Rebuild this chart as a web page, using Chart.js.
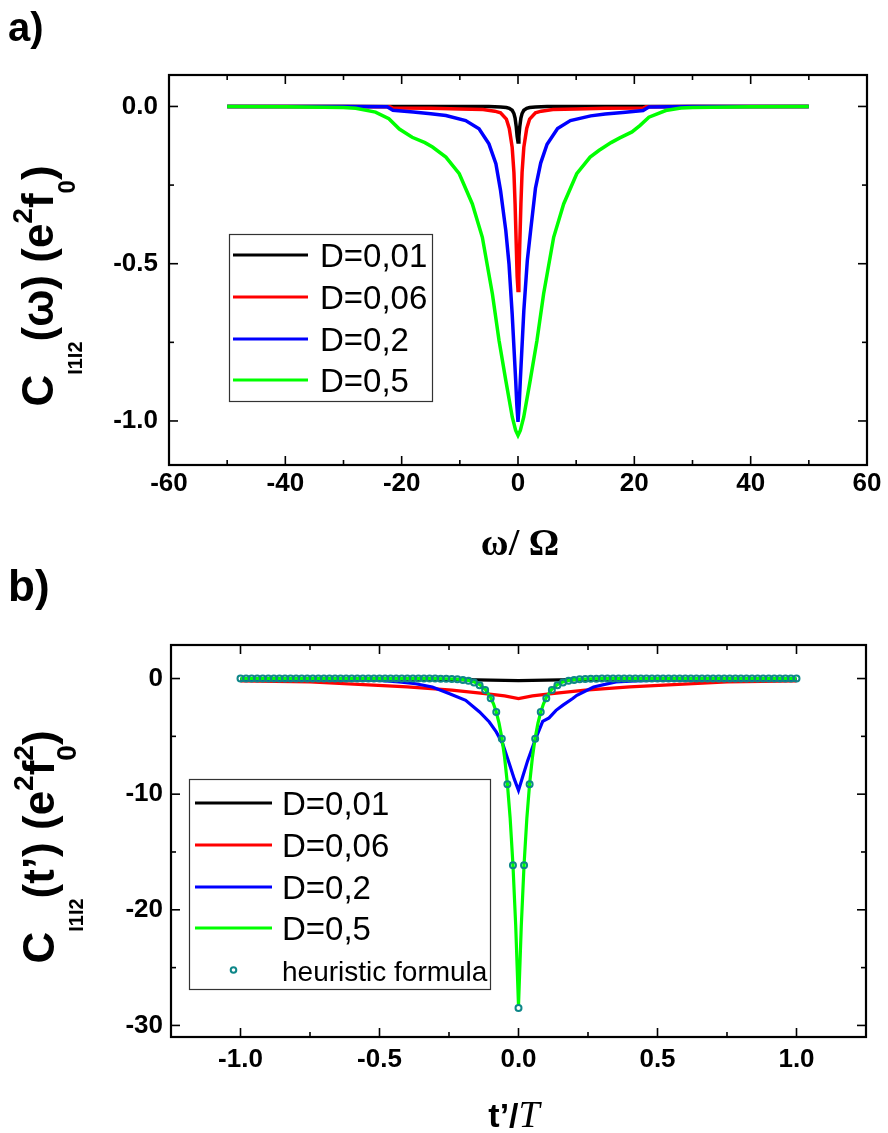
<!DOCTYPE html>
<html><head><meta charset="utf-8">
<script src="https://cdn.jsdelivr.net/npm/chart.js@4.4.0/dist/chart.umd.min.js"></script>
<style>
html,body{margin:0;padding:0;background:#fff;width:888px;height:1133px;overflow:hidden}
#wa{position:absolute;left:0;top:0;width:888px;height:566px}
#wb{position:absolute;left:0;top:566px;width:888px;height:567px}
canvas{display:block}
</style></head><body>
<div id="wa"><canvas id="ca" width="888" height="566"></canvas></div>
<div id="wb"><canvas id="cb" width="888" height="567"></canvas></div>
<script>
// ---------- DATA: panel a) C(omega) ----------
const seriesLabels = ['D=0,01','D=0,06','D=0,2','D=0,5'];
const heurLabel = 'heuristic formula';

const omegaD001 = [-50,-20,-10,-5,-3,-2,-1.5,-1,-0.7,-0.5,-0.3,-0.15,0,0.15,0.3,0.5,0.7,1,1.5,2,3,5,10,20,50];
const cOmegaD001 = [0,-0.0002,-0.0003,-0.0005,-0.0015,-0.0033,-0.0058,-0.0123,-0.0225,-0.037,-0.065,-0.095,-0.113,-0.095,-0.065,-0.037,-0.0225,-0.0123,-0.0058,-0.0033,-0.0015,-0.0005,-0.0003,-0.0002,0];

const omegaD006 = [-50,-30,-22,-21.5,-15,-10,-6,-4,-3,-2,-1.5,-1,-0.7,-0.5,-0.3,-0.15,0,0.15,0.3,0.5,0.7,1,1.5,2,3,4,6,10,15,21.5,22,30,50];
const cOmegaD006 = [0,0,-0.001,-0.005,-0.006,-0.008,-0.01,-0.015,-0.02,-0.04,-0.07,-0.13,-0.21,-0.31,-0.44,-0.54,-0.585,-0.54,-0.44,-0.31,-0.21,-0.13,-0.07,-0.04,-0.02,-0.015,-0.01,-0.008,-0.006,-0.005,-0.001,0,0];

const omegaD02 = [-50,-30,-22.5,-21.5,-18,-15,-12.4,-9,-6.7,-5,-3.8,-3,-2.1,-1.55,-1,-0.4,-0.2,0,0.2,0.4,1,1.6,2.2,3,3.9,5,6.8,9,12.5,15,18,21.5,22.5,30,50];
const cOmegaD02 = [0,0,-0.001,-0.012,-0.018,-0.023,-0.029,-0.045,-0.071,-0.119,-0.182,-0.267,-0.394,-0.5,-0.66,-0.87,-0.95,-1.003,-0.95,-0.87,-0.65,-0.49,-0.39,-0.26,-0.18,-0.12,-0.07,-0.045,-0.03,-0.024,-0.019,-0.013,-0.002,0,0];

const omegaD05 = [-50,-40,-30,-27.9,-24.5,-22.2,-20.4,-18.2,-16,-14.7,-12.4,-10.1,-7.85,-6.13,-4.4,-3.26,-2.1,-0.98,-0.4,0,0.4,0.98,2.1,3.26,4.4,6.13,7.85,10.1,12.4,13.9,16,17.5,19.6,21,22.5,25.4,28,30,40,50];
const cOmegaD05 = [0,-0.001,-0.003,-0.006,-0.018,-0.039,-0.072,-0.098,-0.115,-0.129,-0.161,-0.214,-0.31,-0.416,-0.596,-0.744,-0.871,-0.988,-1.03,-1.046,-1.03,-0.988,-0.871,-0.744,-0.596,-0.416,-0.31,-0.214,-0.161,-0.14,-0.115,-0.1,-0.081,-0.06,-0.034,-0.013,-0.005,-0.003,-0.001,0];

const xTicksA = [-60,-40,-20,0,20,40,60];
const xTickLabelsA = ['-60','-40','-20','0','20','40','60'];
const xMinorA = [-50,-30,-10,10,30,50];
const yTicksA = [0,-0.5,-1.0];
const yTickLabelsA = ['0.0','-0.5','-1.0'];
const yMinorA = [-0.25,-0.75];

// ---------- DATA: panel b) C(t') ----------
const tD001 = [-1,-0.3,-0.15,0,0.15,0.3,1];
const cTD001 = [-0.05,-0.08,-0.12,-0.18,-0.12,-0.08,-0.05];

const tD006 = [-1,-0.75,-0.54,-0.4,-0.24,-0.12,-0.05,0,0.05,0.12,0.24,0.4,0.54,0.75,1];
const cTD006 = [-0.2,-0.3,-0.55,-0.72,-1.0,-1.3,-1.5,-1.73,-1.5,-1.3,-1.0,-0.72,-0.55,-0.3,-0.2];

const tD02 = [-1,-0.7,-0.5,-0.43,-0.37,-0.31,-0.25,-0.19,-0.14,-0.105,-0.08,-0.057,-0.033,-0.015,0,0.015,0.033,0.06,0.087,0.11,0.135,0.16,0.195,0.21,0.27,0.35,0.42,0.51,0.7,1];
const cTD02 = [-0.1,-0.12,-0.17,-0.3,-0.45,-0.73,-1.3,-1.88,-2.89,-3.76,-4.62,-5.63,-7.36,-8.7,-9.67,-8.5,-7.1,-5.3,-3.7,-3.4,-2.75,-2.3,-1.73,-1.45,-0.73,-0.29,-0.2,-0.15,-0.12,-0.1];

const tD05 = [-1,-0.5,-0.3,-0.26,-0.22,-0.2,-0.18,-0.16,-0.14,-0.12,-0.1,-0.09,-0.08,-0.07,-0.06,-0.05,-0.04,-0.03,-0.02,-0.01,0,0.01,0.02,0.03,0.04,0.05,0.06,0.07,0.08,0.09,0.1,0.12,0.14,0.16,0.18,0.2,0.22,0.26,0.3,0.5,1];
const cTD05 = [0,0,-0.005,-0.017,-0.05,-0.09,-0.17,-0.29,-0.52,-0.92,-1.64,-2.18,-2.9,-3.86,-5.13,-6.83,-9.09,-12.1,-16.09,-21.4,-28.3,-21.4,-16.09,-12.1,-9.09,-6.83,-5.13,-3.86,-2.9,-2.18,-1.64,-0.92,-0.52,-0.29,-0.17,-0.09,-0.05,-0.017,-0.005,0,0];

const tHeur = [-1,-0.98,-0.96,-0.94,-0.92,-0.9,-0.88,-0.86,-0.84,-0.82,-0.8,-0.78,-0.76,-0.74,-0.72,-0.7,-0.68,-0.66,-0.64,-0.62,-0.6,-0.58,-0.56,-0.54,-0.52,-0.5,-0.48,-0.46,-0.44,-0.42,-0.4,-0.38,-0.36,-0.34,-0.32,-0.3,-0.28,-0.26,-0.24,-0.22,-0.2,-0.18,-0.16,-0.14,-0.12,-0.1,-0.08,-0.06,-0.04,-0.02,0,0.02,0.04,0.06,0.08,0.1,0.12,0.14,0.16,0.18,0.2,0.22,0.24,0.26,0.28,0.3,0.32,0.34,0.36,0.38,0.4,0.42,0.44,0.46,0.48,0.5,0.52,0.54,0.56,0.58,0.6,0.62,0.64,0.66,0.68,0.7,0.72,0.74,0.76,0.78,0.8,0.82,0.84,0.86,0.88,0.9,0.92,0.94,0.96,0.98,1];
const cHeur = [0,0,0,0,0,0,0,0,0,0,0,0,0,0,0,0,0,0,0,0,0,0,0,0,0,0,0,0,0,0,0,0,0,0,0,-0.004,-0.008,-0.015,-0.03,-0.06,-0.12,-0.2,-0.35,-0.58,-1.0,-1.7,-2.9,-5.2,-9.15,-16.15,-28.5,-16.15,-9.15,-5.2,-2.9,-1.7,-1.0,-0.58,-0.35,-0.2,-0.12,-0.06,-0.03,-0.015,-0.008,-0.004,0,0,0,0,0,0,0,0,0,0,0,0,0,0,0,0,0,0,0,0,0,0,0,0,0,0,0,0,0,0,0,0,0,0,0];

const xTicksB = [-1,-0.5,0,0.5,1];
const xTickLabelsB = ['-1.0','-0.5','0.0','0.5','1.0'];
const xMinorB = [-0.75,-0.25,0.25,0.75];
const yTicksB = [0,-10,-20,-30];
const yTickLabelsB = ['0','-10','-20','-30'];
const yMinorB = [-5,-15,-25];

// ---------- helpers ----------
const SANS = '"Liberation Sans", Arial, sans-serif';
const SERIF = '"Liberation Serif", "Times New Roman", serif';
const COLORS = ['#000000','#ff0000','#0000ff','#00ff00'];
const HEUR_COLOR = '#0e8789';

function pts(xs, ys){ return xs.map((x,i)=>({x:x, y:ys[i]})); }

function drawRuns(ctx, runs, x, y, angle){
  ctx.save();
  ctx.translate(x,y); ctx.rotate(angle);
  ctx.fillStyle='#000'; ctx.textAlign='left'; ctx.textBaseline='alphabetic';
  const w = runs.map(r=>{ctx.font=r.font; return ctx.measureText(r.t).width;});
  let total=0; runs.forEach((r,i)=>{ if(r.adv!==false) total+=w[i]; });
  let cx=-total/2;
  runs.forEach((r,i)=>{ ctx.font=r.font; ctx.fillText(r.t,cx,r.dy||0); if(r.adv!==false) cx+=w[i]; });
  ctx.restore();
}

function framePlugin(xMajor,xMinor,yMajor,yMinor){
  return {id:'frame', afterDatasetsDraw(chart){
    const ctx=chart.ctx, a=chart.chartArea, sx=chart.scales.x, sy=chart.scales.y;
    ctx.save(); ctx.strokeStyle='#000';
    ctx.lineWidth=1.6;
    const seg=(x1,y1,x2,y2)=>{ctx.beginPath();ctx.moveTo(x1,y1);ctx.lineTo(x2,y2);ctx.stroke();};
    xMajor.forEach(v=>{const p=sx.getPixelForValue(v); seg(p,a.bottom,p,a.bottom-9); seg(p,a.top,p,a.top+9);});
    xMinor.forEach(v=>{const p=sx.getPixelForValue(v); seg(p,a.bottom,p,a.bottom-5); seg(p,a.top,p,a.top+5);});
    yMajor.forEach(v=>{const p=sy.getPixelForValue(v); seg(a.left,p,a.left+9,p); seg(a.right,p,a.right-9,p);});
    yMinor.forEach(v=>{const p=sy.getPixelForValue(v); seg(a.left,p,a.left+5,p); seg(a.right,p,a.right-5,p);});
    ctx.lineWidth=2.2;
    ctx.strokeRect(a.left,a.top,a.right-a.left,a.bottom-a.top);
    ctx.restore();
  }};
}

function legendPlugin(cfg){
  return {id:'boxlegend', afterDraw(chart){
    const ctx=chart.ctx; ctx.save();
    ctx.fillStyle='#fff'; ctx.fillRect(cfg.box[0],cfg.box[1],cfg.box[2],cfg.box[3]);
    ctx.strokeStyle='#333'; ctx.lineWidth=1.2;
    ctx.strokeRect(cfg.box[0]+0.5,cfg.box[1]+0.5,cfg.box[2],cfg.box[3]);
    chart.data.datasets.forEach((ds,i)=>{
      const ry=cfg.rows[i];
      if(ds.showLine===false){
        ctx.beginPath(); ctx.arc((cfg.x0+cfg.x1)/2, ry, 2.8, 0, Math.PI*2);
        ctx.strokeStyle=ds.pointBorderColor; ctx.lineWidth=2; ctx.stroke();
        ctx.font='28px '+SANS; ctx.fillStyle='#000'; ctx.textBaseline='alphabetic';
        ctx.fillText(ds.label,cfg.tx,ry+11);
      } else {
        ctx.beginPath(); ctx.moveTo(cfg.x0,ry); ctx.lineTo(cfg.x1,ry);
        ctx.strokeStyle=ds.borderColor; ctx.lineWidth=3.2; ctx.stroke();
        ctx.font='33px '+SANS; ctx.fillStyle='#000'; ctx.textBaseline='alphabetic';
        ctx.fillText(ds.label,cfg.tx,ry+12);
      }
    });
    ctx.restore();
  }};
}

function textPlugin(fn){ return {id:'texts', afterDraw(chart){ fn(chart.ctx); }}; }

function scalesCfg(xr, yr, xt, xl, yt, yl, yW, xH, xPad, yPad){
  return {
    x:{type:'linear', min:xr[0], max:xr[1],
       afterBuildTicks:s=>{s.ticks=xt.map(v=>({value:v}));},
       afterFit:s=>{s.height=xH;},
       grid:{display:false, drawTicks:false}, border:{display:false},
       ticks:{autoSkip:false, maxRotation:0, padding:xPad, color:'#000',
              font:{family:SANS, weight:'bold', size:26},
              callback:(v,i)=>xl[i]}},
    y:{type:'linear', min:yr[0], max:yr[1],
       afterBuildTicks:s=>{s.ticks=yt.map(v=>({value:v}));},
       afterFit:s=>{s.width=yW;},
       grid:{display:false, drawTicks:false}, border:{display:false},
       ticks:{autoSkip:false, padding:yPad, color:'#000',
              font:{family:SANS, weight:'bold', size:26},
              callback:(v,i)=>yl[i]}}
  };
}

function lineDs(label, data, color, order, width){
  return {label:label, data:data, showLine:true, borderColor:color, backgroundColor:color,
          borderWidth:width, pointRadius:0, pointHoverRadius:0, tension:0, order:order, fill:false};
}

Chart.defaults.animation=false;
Chart.defaults.responsive=false;

// ---------- chart a ----------
new Chart(document.getElementById('ca'), {
  type:'scatter',
  data:{datasets:[
    lineDs(seriesLabels[0], pts(omegaD001,cOmegaD001), COLORS[0], 4, 3.5),
    lineDs(seriesLabels[1], pts(omegaD006,cOmegaD006), COLORS[1], 3, 3.5),
    lineDs(seriesLabels[2], pts(omegaD02,cOmegaD02), COLORS[2], 2, 3.5),
    lineDs(seriesLabels[3], pts(omegaD05,cOmegaD05), COLORS[3], 1, 3.5)
  ]},
  options:{
    layout:{padding:{top:75,right:21,left:0,bottom:0}},
    plugins:{legend:{display:false}, tooltip:{enabled:false}},
    scales:scalesCfg([-60,60],[-1.14,0.1],xTicksA,xTickLabelsA,yTicksA,yTickLabelsA,169,101,3,11)
  },
  plugins:[
    framePlugin(xTicksA,xMinorA,yTicksA,yMinorA),
    legendPlugin({box:[229,234,203,167], rows:[255,297,339,380], x0:233, x1:308, tx:320}),
    textPlugin(ctx=>{
      const B44='bold 44px '+SANS;
      drawRuns(ctx,[
        {t:'C',font:B44},
        {t:'I1I2',font:'bold 20px '+SANS,dy:29},
        {t:'(ω) (e',font:B44},
        {t:'2',font:'bold 28px '+SANS,dy:-21},
        {t:'f',font:B44},
        {t:'0',font:'bold 24px '+SANS,dy:22},
        {t:')',font:B44}
      ],53,286,-Math.PI/2);
      drawRuns(ctx,[{t:'ω/ Ω',font:'bold 38px '+SERIF}],520,555,0);
      ctx.save(); ctx.font='bold 40px '+SANS; ctx.fillStyle='#000'; ctx.textBaseline='alphabetic';
      ctx.fillText('a)',8,41); ctx.restore();
    })
  ]
});

// ---------- chart b ----------
new Chart(document.getElementById('cb'), {
  type:'scatter',
  data:{datasets:[
    lineDs(seriesLabels[0], pts(tD001,cTD001), COLORS[0], 4, 3.2),
    lineDs(seriesLabels[1], pts(tD006,cTD006), COLORS[1], 3, 3.2),
    lineDs(seriesLabels[2], pts(tD02,cTD02), COLORS[2], 2, 3.2),
    lineDs(seriesLabels[3], pts(tD05,cTD05), COLORS[3], 1, 3.2),
    {label:heurLabel, data:pts(tHeur,cHeur), showLine:false, pointRadius:3, pointHoverRadius:3,
     pointBorderWidth:2, pointBorderColor:HEUR_COLOR, pointBackgroundColor:'rgba(0,0,0,0)', order:0}
  ]},
  options:{
    layout:{padding:{top:79,right:22,left:0,bottom:0}},
    plugins:{legend:{display:false}, tooltip:{enabled:false}},
    scales:scalesCfg([-1.25,1.25],[-31,2.9],xTicksB,xTickLabelsB,yTicksB,yTickLabelsB,171,96,7,8)
  },
  plugins:[
    framePlugin(xTicksB,xMinorB,yTicksB,yMinorB),
    legendPlugin({box:[189,213,301,210], rows:[237,279,321,362,404], x0:195, x1:272, tx:282}),
    textPlugin(ctx=>{
      const B44='bold 44px '+SANS;
      drawRuns(ctx,[
        {t:'C',font:B44},
        {t:'I1I2',font:'bold 20px '+SANS,dy:29},
        {t:'(t’) (e',font:B44},
        {t:'2',font:'bold 28px '+SANS,dy:-21},
        {t:'f',font:B44},
        {t:'2',font:'bold 28px '+SANS,dy:-21,adv:false},
        {t:'0',font:'bold 28px '+SANS,dy:22},
        {t:')',font:B44}
      ],54,281,-Math.PI/2);
      drawRuns(ctx,[{t:'t’/',font:'bold 34px '+SANS},{t:'T',font:'italic 38px '+SERIF}],514,561,0);
      ctx.save(); ctx.font='bold 44px '+SANS; ctx.fillStyle='#000'; ctx.textBaseline='alphabetic';
      ctx.fillText('b)',8,35); ctx.restore();
    })
  ]
});
</script>
</body></html>
